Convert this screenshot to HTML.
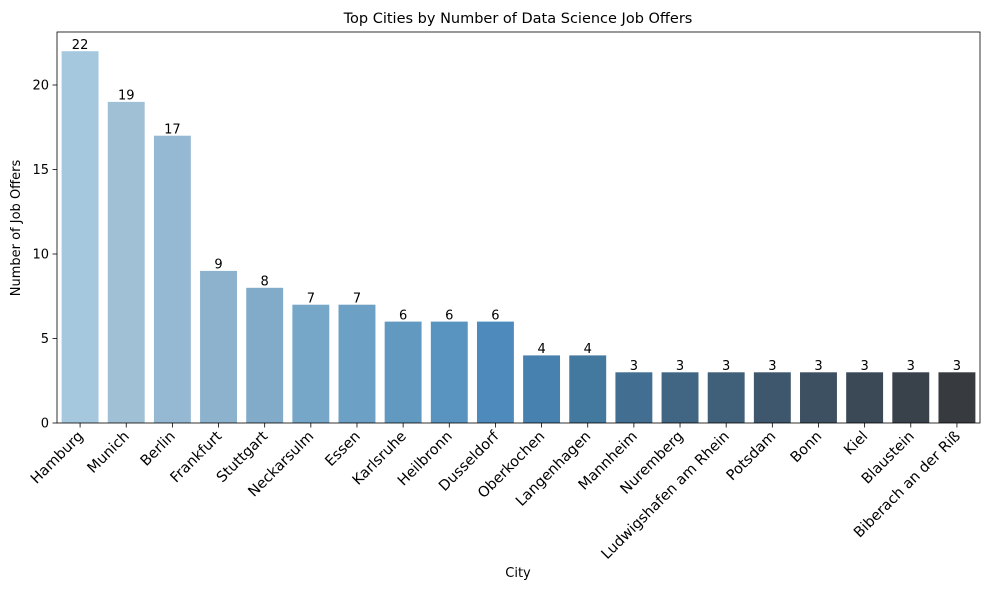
<!DOCTYPE html>
<html><head><meta charset="utf-8"><style>body{margin:0;background:#fff}svg{display:block;font-family:"DejaVu Sans","Liberation Sans",sans-serif}</style></head>
<body>
<svg width="989" height="589" viewBox="0 0 989 589" xmlns="http://www.w3.org/2000/svg">
<rect width="989" height="589" fill="#fff"/>
<g>
<rect x="61.62" y="51.2" width="36.92" height="371.8" fill="#a6c8df"/>
<rect x="107.77" y="101.9" width="36.92" height="321.1" fill="#a0c0d6"/>
<rect x="153.92" y="135.7" width="36.92" height="287.3" fill="#95b9d2"/>
<rect x="200.07" y="270.9" width="36.92" height="152.1" fill="#8cb2cd"/>
<rect x="246.22" y="287.8" width="36.92" height="135.2" fill="#82abca"/>
<rect x="292.37" y="304.7" width="36.92" height="118.3" fill="#76a7c8"/>
<rect x="338.52" y="304.7" width="36.92" height="118.3" fill="#6ca0c4"/>
<rect x="384.67" y="321.6" width="36.92" height="101.4" fill="#6299c0"/>
<rect x="430.82" y="321.6" width="36.92" height="101.4" fill="#5993bf"/>
<rect x="476.97" y="321.6" width="36.92" height="101.4" fill="#4f8abc"/>
<rect x="523.12" y="355.4" width="36.92" height="67.6" fill="#4781b0"/>
<rect x="569.27" y="355.4" width="36.92" height="67.6" fill="#43789f"/>
<rect x="615.42" y="372.3" width="36.92" height="50.7" fill="#416e91"/>
<rect x="661.57" y="372.3" width="36.92" height="50.7" fill="#416684"/>
<rect x="707.72" y="372.3" width="36.92" height="50.7" fill="#405f79"/>
<rect x="753.87" y="372.3" width="36.92" height="50.7" fill="#3e576d"/>
<rect x="800.02" y="372.3" width="36.92" height="50.7" fill="#3d5062"/>
<rect x="846.17" y="372.3" width="36.92" height="50.7" fill="#3b4957"/>
<rect x="892.32" y="372.3" width="36.92" height="50.7" fill="#39414b"/>
<rect x="938.47" y="372.3" width="36.92" height="50.7" fill="#373b40"/>
</g>
<g font-size="13" text-anchor="middle">
<text x="80.08" y="49">22</text><text x="126.23" y="99.5">19</text><text x="172.38" y="133.5">17</text>
<text x="218.53" y="268.5">9</text><text x="264.68" y="285.5">8</text><text x="310.83" y="302.5">7</text>
<text x="356.98" y="302.5">7</text><text x="403.13" y="319.5">6</text><text x="449.28" y="319.5">6</text>
<text x="495.43" y="319.5">6</text><text x="541.58" y="353">4</text><text x="587.73" y="353">4</text>
<text x="633.88" y="370">3</text><text x="680.03" y="370">3</text><text x="726.18" y="370">3</text>
<text x="772.33" y="370">3</text><text x="818.48" y="370">3</text><text x="864.63" y="370">3</text>
<text x="910.78" y="370">3</text><text x="956.93" y="370">3</text>
</g>
<g stroke="#000" stroke-width="0.8">
<line x1="80.08" y1="423" x2="80.08" y2="427.5"/><line x1="126.23" y1="423" x2="126.23" y2="427.5"/>
<line x1="172.38" y1="423" x2="172.38" y2="427.5"/><line x1="218.53" y1="423" x2="218.53" y2="427.5"/>
<line x1="264.68" y1="423" x2="264.68" y2="427.5"/><line x1="310.83" y1="423" x2="310.83" y2="427.5"/>
<line x1="356.98" y1="423" x2="356.98" y2="427.5"/><line x1="403.13" y1="423" x2="403.13" y2="427.5"/>
<line x1="449.28" y1="423" x2="449.28" y2="427.5"/><line x1="495.43" y1="423" x2="495.43" y2="427.5"/>
<line x1="541.58" y1="423" x2="541.58" y2="427.5"/><line x1="587.73" y1="423" x2="587.73" y2="427.5"/>
<line x1="633.88" y1="423" x2="633.88" y2="427.5"/><line x1="680.03" y1="423" x2="680.03" y2="427.5"/>
<line x1="726.18" y1="423" x2="726.18" y2="427.5"/><line x1="772.33" y1="423" x2="772.33" y2="427.5"/>
<line x1="818.48" y1="423" x2="818.48" y2="427.5"/><line x1="864.63" y1="423" x2="864.63" y2="427.5"/>
<line x1="910.78" y1="423" x2="910.78" y2="427.5"/><line x1="956.93" y1="423" x2="956.93" y2="427.5"/>
<line x1="52.5" y1="423" x2="57" y2="423"/><line x1="52.5" y1="338.5" x2="57" y2="338.5"/>
<line x1="52.5" y1="254" x2="57" y2="254"/><line x1="52.5" y1="169.5" x2="57" y2="169.5"/>
<line x1="52.5" y1="85" x2="57" y2="85"/>
</g>
<g font-size="13" text-anchor="end">
<text x="49" y="427.5">0</text><text x="49" y="343">5</text><text x="49" y="258.5">10</text>
<text x="49" y="174">15</text><text x="49" y="89.5">20</text>
</g>
<g font-size="14.5" text-anchor="end">
<text transform="translate(84,437) rotate(-45)">Hamburg</text>
<text transform="translate(130,437) rotate(-45)">Munich</text>
<text transform="translate(176,437) rotate(-45)">Berlin</text>
<text transform="translate(222.5,437) rotate(-45)">Frankfurt</text>
<text transform="translate(268.5,437) rotate(-45)">Stuttgart</text>
<text transform="translate(314.5,437) rotate(-45)">Neckarsulm</text>
<text transform="translate(361,437) rotate(-45)">Essen</text>
<text transform="translate(407,437) rotate(-45)">Karlsruhe</text>
<text transform="translate(453,437) rotate(-45)">Heilbronn</text>
<text transform="translate(499.5,437) rotate(-45)">Dusseldorf</text>
<text transform="translate(545.5,437) rotate(-45)">Oberkochen</text>
<text transform="translate(591.5,437) rotate(-45)">Langenhagen</text>
<text transform="translate(638,437) rotate(-45)">Mannheim</text>
<text transform="translate(684,437) rotate(-45)">Nuremberg</text>
<text transform="translate(730,437) rotate(-45)">Ludwigshafen am Rhein</text>
<text transform="translate(776.5,437) rotate(-45)">Potsdam</text>
<text transform="translate(822.5,437) rotate(-45)">Bonn</text>
<text transform="translate(868.5,437) rotate(-45)">Kiel</text>
<text transform="translate(915,437) rotate(-45)">Blaustein</text>
<text transform="translate(961,437) rotate(-45)">Biberach an der Riß</text>
</g>
<rect x="57" y="32" width="923" height="391" fill="none" stroke="#000" stroke-width="0.8"/>
<text x="518" y="23" font-size="14.5" text-anchor="middle">Top Cities by Number of Data Science Job Offers</text>
<text x="518" y="577" font-size="13" text-anchor="middle">City</text>
<text transform="translate(20,228) rotate(-90)" font-size="13" text-anchor="middle">Number of Job Offers</text>
</svg>
</body></html>
